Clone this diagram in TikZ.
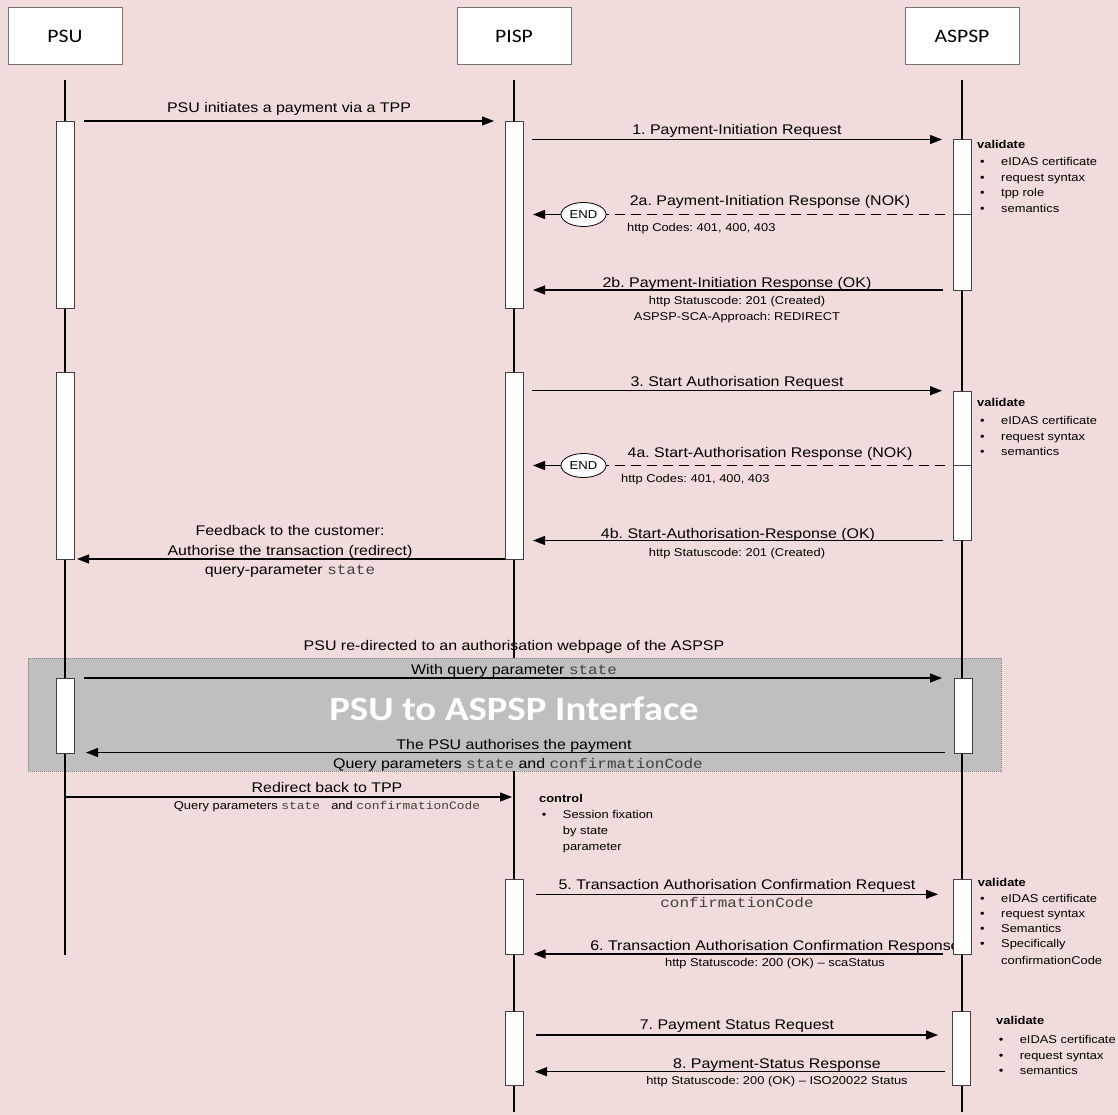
\documentclass[tikz,border=0pt]{standalone}
\usepackage{fontspec}
\setmainfont{Liberation Sans}[FakeStretch=1.14]
\setmonofont{Liberation Mono}[FakeStretch=1.14]
\newfontfamily\hdrfont{Carlito}[FakeStretch=1.14]
\usetikzlibrary{arrows.meta,shapes.geometric}
\definecolor{bgpink}{HTML}{F2DCDB}
\definecolor{boxgrey}{HTML}{BFBFBF}
\definecolor{monogrey}{HTML}{404040}
\newcommand{\cd}[1]{{\ttfamily\color{monogrey}#1}}
\newcommand{\vitem}[4]{\node[sml,anchor=base west] (#1d) at (#2,#3) {•};\node[sml,anchor=base west] (#1) at (#2+21,#3) {#4};}
\frenchspacing
\begin{document}
\frenchspacing
\begin{tikzpicture}[x=1pt,y=-1pt,
 life/.style={line width=1.8pt},
 msg/.style={line width=1.2pt,-{Triangle[length=12pt,width=9pt]}},
 dmsg/.style={line width=1.2pt,dash pattern=on 10pt off 6pt},
 actbox/.style={draw=black!75,fill=white,line width=0.7pt,minimum width=18pt,inner sep=0pt},
 hdr/.style={draw=black!55,fill=white,line width=0.7pt,minimum width=114pt,minimum height=57pt,inner sep=0pt,font=\hdrfont\fontsize{19}{22}\selectfont},
 lbl/.style={font=\fontsize{14}{16}\selectfont,inner sep=0pt,anchor=base},
 sml/.style={font=\fontsize{11.3}{13}\selectfont,inner sep=0pt,anchor=base},
 endn/.style={ellipse,draw=black,fill=white,line width=0.8pt,minimum width=45pt,minimum height=24pt,inner sep=0pt,font=\fontsize{11.5}{13}\selectfont},
]
\fill[bgpink] (0,0) rectangle (1118,1115);
\useasboundingbox (0,0) rectangle (1118,1115);

% headers
\node[hdr] (psu) at (65,36) {PSU};
\node[hdr] (pisp) at (514,36) {PISP};
\node[hdr] (aspsp) at (962,36) {ASPSP};

% interface box
\node[draw=black!50,dash pattern=on 1pt off 1pt,line width=0.6pt,fill=boxgrey,minimum width=973pt,minimum height=113pt,inner sep=0pt] (iface) at (514.5,714.5) {};

% lifelines
\coordinate (psuT) at (65,80); \coordinate (psuB) at (65,955);
\coordinate (pispT) at (514,80); \coordinate (pispM1) at (514,658);
\coordinate (pispM2) at (514,771); \coordinate (pispB) at (514,1112);
\coordinate (aspT) at (962,80); \coordinate (aspB) at (962,1112);
\draw[life] (psuT) -- (psuB);
\draw[life] (pispT) -- (pispM1);
\draw[life] (pispM2) -- (pispB);
\draw[life] (aspT) -- (aspB);

\node[font=\hdrfont\bfseries\fontsize{34}{40}\selectfont,text=white,inner sep=0pt] (ititle) at (514,709) {PSU to ASPSP Interface};

% message 0
\coordinate (m0s) at (84,121); \coordinate (m0e) at (494,121);
\draw[msg] (m0s) -- (m0e);
\node[lbl] (t0) at (289,113) {PSU initiates a payment via a TPP};

% message 1
\coordinate (m1s) at (532,139.5); \coordinate (m1e) at (942,139.5);
\draw[msg] (m1s) -- (m1e);
\node[lbl] (t1) at (737,134.5) {1. Payment-Initiation Request};

% message 2a
\coordinate (m2as) at (945,214.5); \coordinate (m2ae) at (533,214.5);
\node[endn] (end1) at (583.5,214.5) {END};
\draw[dmsg] (m2as) -- (end1.east);
\draw[msg] (end1.west) -- (m2ae);
\node[lbl] (t2a) at (770,206) {2a. Payment-Initiation Response (NOK)};
\node[sml,anchor=base west] (t2ac) at (627,231.5) {http Codes: 401, 400, 403};

% message 2b
\coordinate (m2bs) at (943,290); \coordinate (m2be) at (533,290);
\draw[msg] (m2bs) -- (m2be);
\node[lbl] (t2b) at (737,287.5) {2b. Payment-Initiation Response (OK)};
\node[sml] (t2b1) at (737,304) {http Statuscode: 201 (Created)};
\node[sml] (t2b2) at (737,320) {ASPSP-SCA-Approach: REDIRECT};

% message 3
\coordinate (m3s) at (532,390.7); \coordinate (m3e) at (942,390.7);
\draw[msg] (m3s) -- (m3e);
\node[lbl] (t3) at (737,386) {3. Start Authorisation Request};

% message 4a
\coordinate (m4as) at (945,465.5); \coordinate (m4ae) at (533,465.5);
\node[endn] (end2) at (583.5,465.5) {END};
\draw[dmsg] (m4as) -- (end2.east);
\draw[msg] (end2.west) -- (m4ae);
\node[lbl] (t4a) at (770,457) {4a. Start-Authorisation Response (NOK)};
\node[sml,anchor=base west] (t4ac) at (621,482.7) {http Codes: 401, 400, 403};

% message 4b
\coordinate (m4bs) at (943,540.5); \coordinate (m4be) at (533,540.5);
\draw[msg] (m4bs) -- (m4be);
\node[lbl] (t4b) at (738,538.5) {4b. Start-Authorisation-Response (OK)};
\node[sml] (t4b1) at (737,556) {http Statuscode: 201 (Created)};

% feedback
\coordinate (mfs) at (505,559); \coordinate (mfe) at (77,559);
\draw[msg] (mfs) -- (mfe);
\node[lbl] (tf1) at (290,535) {Feedback to the customer:};
\node[lbl] (tf2) at (290,555) {Authorise the transaction (redirect)};
\node[lbl] (tf3) at (290,574) {query-parameter \cd{state}};

% interface messages
\node[lbl] (tr0) at (514,650) {PSU re-directed to an authorisation webpage of the ASPSP};
\coordinate (mws) at (84,678); \coordinate (mwe) at (942,678);
\draw[msg] (mws) -- (mwe);
\node[lbl] (tw) at (514,674) {With query parameter \cd{state}};
\coordinate (mps) at (945,752.5); \coordinate (mpe) at (86,752.5);
\draw[msg] (mps) -- (mpe);
\node[lbl] (tp1) at (514,749) {The PSU authorises the payment};
\node[lbl] (tp2) at (518,768) {Query parameters \cd{state} and \cd{confirmationCode}};

% redirect back
\coordinate (mrs) at (65,797); \coordinate (mre) at (512,797);
\draw[msg] (mrs) -- (mre);
\node[lbl] (trb) at (327,792.5) {Redirect back to TPP};
\node[sml] (trb2) at (327,809) {Query parameters \cd{state\ } and \cd{confirmationCode}};

% control
\node[sml,anchor=base west] (ctl) at (539,802.7) {\bfseries control};
\vitem{ctla}{541.7}{818}{Session fixation}
\node[sml,anchor=base west] (ctlb) at (562.7,834) {by state};
\node[sml,anchor=base west] (ctlc) at (562.7,850) {parameter};

% message 5
\coordinate (m5s) at (535.5,894.3); \coordinate (m5e) at (938,894.3);
\draw[msg] (m5s) -- (m5e);
\node[lbl] (t5) at (737,889) {5. Transaction Authorisation Confirmation Request};
\node[lbl] (t5b) at (737,907.7) {\cd{confirmationCode}};

% message 6
\coordinate (m6s) at (943,954); \coordinate (m6e) at (533.5,954);
\draw[msg] (m6s) -- (m6e);
\node[lbl] (t6) at (775,950.7) {6. Transaction Authorisation Confirmation Response};
\node[sml] (t6b) at (775,966) {http Statuscode: 200 (OK) – scaStatus};

% message 7
\coordinate (m7s) at (535.5,1035); \coordinate (m7e) at (938,1035);
\draw[msg] (m7s) -- (m7e);
\node[lbl] (t7) at (737,1029) {7. Payment Status Request};

% message 8
\coordinate (m8s) at (945,1071.7); \coordinate (m8e) at (535,1071.7);
\draw[msg] (m8s) -- (m8e);
\node[lbl] (t8) at (777,1068) {8. Payment-Status Response};
\node[sml] (t8b) at (777,1084) {http Statuscode: 200 (OK) – ISO20022 Status};

% activation boxes
\node[actbox,minimum height=187pt] (psuA1) at (65,214.5) {};
\node[actbox,minimum height=187pt] (psuA2) at (65,465.5) {};
\node[actbox,minimum height=75pt] (psuA3) at (65,715.5) {};
\node[actbox,minimum height=187pt] (pispA1) at (514,214.5) {};
\node[actbox,minimum height=187pt] (pispA2) at (514,465.5) {};
\node[actbox,minimum height=75pt] (pispA3) at (514,916.5) {};
\node[actbox,minimum height=74pt] (pispA4) at (514,1048) {};
\node[actbox,minimum height=151pt] (aspA1) at (962.5,214.5) {};
\draw[draw=black!75,line width=0.7pt] (aspA1.west) -- (aspA1.east);
\node[actbox,minimum height=149pt] (aspA2) at (962.5,465.5) {};
\draw[draw=black!75,line width=0.7pt] (aspA2.west) -- (aspA2.east);
\node[actbox,minimum height=75pt] (aspA3) at (963,715.5) {};
\node[actbox,minimum height=75pt] (aspA4) at (962.5,916.5) {};
\node[actbox,minimum height=74pt] (aspA5) at (961.5,1048) {};

% validate 1
\node[sml,anchor=base west] (v1) at (977,148.3) {\bfseries validate};
\vitem{v1a}{980}{166}{eIDAS certificate}
\vitem{v1b}{980}{181.7}{request syntax}
\vitem{v1c}{980}{196.7}{tpp role}
\vitem{v1e}{980}{212.7}{semantics}
% validate 2
\node[sml,anchor=base west] (v2) at (977,406) {\bfseries validate};
\vitem{v2a}{980}{424}{eIDAS certificate}
\vitem{v2b}{980}{440}{request syntax}
\vitem{v2c}{980}{455.7}{semantics}
% validate 3
\node[sml,anchor=base west] (v3) at (977.7,886) {\bfseries validate};
\vitem{v3a}{980}{902.7}{eIDAS certificate}
\vitem{v3b}{980}{917.5}{request syntax}
\vitem{v3c}{980}{932.7}{Semantics}
\vitem{v3e}{980}{947.7}{Specifically}
\node[sml,anchor=base west] (v3f) at (1001,964) {confirmationCode};
% validate 4
\node[sml,anchor=base west] (v4) at (996,1024) {\bfseries validate};
\vitem{v4a}{998.6}{1043}{eIDAS certificate}
\vitem{v4b}{998.6}{1059}{request syntax}
\vitem{v4c}{998.6}{1074}{semantics}
\end{tikzpicture}
\end{document}
